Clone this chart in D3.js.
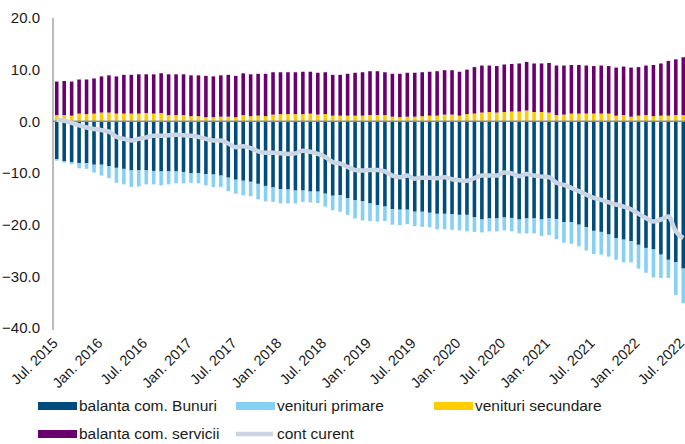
<!DOCTYPE html>
<html>
<meta charset="utf-8">
<script src="https://d3js.org/d3.v7.min.js"></script>
<style>
  body { margin: 0; background: #fff; }
  text { font-family: "Liberation Sans", Arial, sans-serif; fill: #1a1a1a; }
</style>
<body>
<div id="my_dataviz"></div>
<script>
    // monthly data, Jul. 2015 - Jul. 2022 (mld. euro)
    const bunuri = [-7.3,-7.7,-7.9,-8.1,-8.1,-8.4,-8.4,-8.7,-9.0,-9.2,
      -9.5,-9.5,-9.5,-9.6,-9.7,-9.7,-9.7,-9.8,-10.0,-10.0,
      -10.2,-10.3,-10.5,-10.9,-11.3,-11.5,-11.7,-12.1,-12.5,-12.8,
      -13.1,-13.2,-13.4,-13.4,-13.6,-13.6,-14.0,-14.4,-14.3,-14.9,
      -15.3,-15.5,-15.9,-16.2,-16.5,-17.0,-17.1,-17.1,-17.5,-17.5,
      -17.7,-17.9,-17.9,-18.0,-18.1,-18.1,-18.6,-19.0,-18.8,-18.8,
      -18.6,-18.7,-19.0,-18.8,-18.8,-19.0,-18.8,-18.9,-19.5,-19.5,
      -20.0,-20.5,-21.2,-21.4,-21.9,-22.6,-22.9,-23.2,-23.9,-24.5,
      -24.8,-25.8,-26.8,-27.3,-28.5];
    const primare = [-0.3,-0.3,-0.4,-1.0,-1.1,-1.5,-2.1,-2.3,-2.9,-3.0,
      -3.2,-3.1,-2.7,-2.6,-2.7,-2.5,-2.3,-2.2,-1.9,-2.0,
      -2.2,-2.4,-2.2,-2.6,-2.7,-2.8,-2.8,-3.0,-3.0,-2.8,
      -2.8,-2.7,-2.5,-2.2,-2.1,-2.2,-2.5,-2.8,-3.2,-3.2,
      -3.5,-3.7,-3.4,-3.2,-2.8,-3.0,-3.0,-2.8,-2.8,-2.9,
      -2.8,-3.0,-3.0,-3.0,-3.0,-3.2,-2.8,-2.5,-2.5,-2.5,
      -2.5,-2.6,-2.7,-2.9,-2.9,-3.2,-3.2,-3.9,-4.0,-4.2,
      -4.2,-4.5,-4.5,-4.4,-4.3,-4.2,-4.4,-4.1,-4.6,-4.8,
      -5.4,-4.5,-3.5,-6.3,-6.7];
    const secundare = [1.2,1.2,1.1,1.5,1.4,1.5,1.7,1.7,1.5,1.5,
      1.5,1.5,1.6,1.5,1.6,1.2,1.2,1.2,1.0,1.0,
      0.8,0.8,0.9,0.9,0.8,1.2,1.0,1.1,1.0,1.3,
      1.4,1.4,1.4,1.4,1.5,1.3,1.4,1.1,1.1,1.1,
      1.1,1.1,1.2,1.2,1.2,0.9,0.8,0.9,0.9,1.0,
      1.1,1.1,1.3,1.3,1.1,1.4,1.5,1.7,1.8,1.7,
      1.8,1.9,1.9,2.1,1.8,1.8,1.7,1.2,1.3,1.5,
      1.5,1.5,1.5,1.5,1.5,1.1,1.2,0.9,1.1,1.2,
      1.0,1.1,1.1,1.2,1.2];
    const servicii = [6.5,6.6,6.6,6.6,6.7,6.8,7.0,7.2,7.2,7.5,
      7.5,7.6,7.5,7.6,7.7,7.9,7.9,7.9,7.9,7.9,
      8.0,7.9,8.0,8.1,8.0,8.1,8.1,8.1,8.2,8.2,
      8.1,8.1,8.1,8.2,8.1,8.1,8.1,7.9,7.9,8.1,
      8.3,8.4,8.5,8.5,8.3,8.3,8.4,8.5,8.5,8.5,
      8.5,8.6,8.6,8.6,8.5,8.6,9.0,9.1,9.0,9.0,
      9.2,9.2,9.3,9.4,9.4,9.4,9.6,9.6,9.5,9.4,
      9.4,9.3,9.2,9.3,9.2,9.3,9.4,9.5,9.4,9.6,
      9.9,10.1,10.6,10.8,11.2];
    const contCurent = [0.3,0.1,-0.3,-0.8,-1.2,-1.5,-1.7,-2.0,-3.0,-3.4,
      -3.7,-3.4,-3.1,-2.8,-2.8,-2.7,-2.6,-2.7,-2.8,-3.0,
      -3.4,-3.7,-3.7,-4.3,-5.0,-4.8,-5.2,-5.8,-6.1,-6.1,
      -6.2,-6.3,-6.2,-5.7,-5.9,-6.3,-6.9,-7.9,-8.2,-8.8,
      -9.4,-9.5,-9.4,-9.4,-9.7,-10.5,-10.8,-10.5,-11.1,-10.9,
      -10.9,-11.0,-10.8,-11.2,-11.4,-11.5,-11.0,-10.5,-10.5,-10.5,
      -9.9,-10.1,-10.6,-10.2,-10.5,-10.7,-10.8,-11.9,-12.3,-12.9,
      -13.5,-14.2,-14.8,-15.2,-15.7,-16.1,-16.5,-17.0,-17.9,-18.7,
      -19.4,-19.0,-18.4,-21.3,-22.6];
    const tickLabels = ["Jul. 2015","Jan. 2016","Jul. 2016","Jan. 2017","Jul. 2017",
      "Jan. 2018","Jul. 2018","Jan. 2019","Jul. 2019","Jan. 2020","Jul. 2020",
      "Jan. 2021","Jul. 2021","Jan. 2022","Jul. 2022"];
    const yTicks = [20, 10, 0, -10, -20, -30, -40];

    const keys = ["bunuri", "primare", "secundare", "servicii"];
    const colors = {bunuri: "#004c7c", primare: "#86d0f4", secundare: "#ffcc00", servicii: "#6a006e"};

    const width = 685, height = 444;
    const svg = d3.select("#my_dataviz")
      .append("svg")
      .attr("width", width)
      .attr("height", height);

    // month index for each bar
    const data = bunuri.map(function(d, i) {
      return {i: i, bunuri: d, primare: primare[i], secundare: secundare[i],
              servicii: servicii[i], cont: contCurent[i]};
    });

    const x = d3.scaleBand()
      .domain(data.map(d => d.i))
      .range([53, 687])
      .paddingInner(0.52)
      .paddingOuter(0.26);

    const y = d3.scaleLinear()
      .domain([-40, 20])
      .range([328, 18]);

    // title (mostly cut off at the top of the picture)
    svg.append("text")
      .attr("x", 426)
      .attr("y", -6)
      .attr("text-anchor", "end")
      .style("font-size", "22px")
      .style("font-weight", "bold")
      .text("(mld. euro, anual)");

    // y axis labels
    svg.selectAll(".ylab")
      .data(yTicks)
      .enter()
      .append("text")
      .attr("class", "ylab")
      .attr("x", 40)
      .attr("y", d => y(d))
      .attr("dy", "0.35em")
      .attr("text-anchor", "end")
      .style("font-size", "15px")
      .text(d => d3.format(".1f")(d));

    // stacked bars
    const series = d3.stack()
      .keys(keys)
      .offset(d3.stackOffsetDiverging)(data);

    svg.append("g")
      .selectAll("g")
      .data(series)
      .enter()
      .append("g")
      .attr("fill", d => colors[d.key])
      .selectAll("rect")
      .data(d => d)
      .enter()
      .append("rect")
      .attr("x", d => x(d.data.i))
      .attr("width", x.bandwidth())
      .attr("y", d => y(Math.max(d[0], d[1])))
      .attr("height", d => Math.abs(y(d[0]) - y(d[1])));

    // axis lines
    svg.append("line")
      .attr("x1", 53).attr("x2", 53)
      .attr("y1", y(20)).attr("y2", y(-40) + 2)
      .attr("stroke", "#a6a6a6")
      .attr("stroke-width", 1.5);
    svg.append("line")
      .attr("x1", 53).attr("x2", 685)
      .attr("y1", y(0)).attr("y2", y(0))
      .attr("stroke", "#8c8c8c")
      .attr("stroke-width", 1.5);

    // current account line
    const line = d3.line()
      .x(d => x(d.i) + x.bandwidth() / 2)
      .y(d => y(d.cont))
      .curve(d3.curveMonotoneX);
    svg.append("path")
      .datum(data)
      .attr("fill", "none")
      .attr("stroke", "#cbd6e4")
      .attr("stroke-width", 4.5)
      .attr("d", line);

    // x labels every 6 months
    svg.selectAll(".xlab")
      .data(tickLabels)
      .enter()
      .append("text")
      .attr("class", "xlab")
      .attr("text-anchor", "end")
      .attr("transform", (d, k) => "translate(" + (x(k * 6) + x.bandwidth() / 2 + 2) + ",344) rotate(-45)")
      .style("font-size", "14.5px")
      .text(d => d);

    // legend
    const legend = [
      {name: "balanta com. Bunuri", key: "bunuri", lx: 38, ly: 406},
      {name: "venituri primare", key: "primare", lx: 236, ly: 406},
      {name: "venituri secundare", key: "secundare", lx: 434, ly: 406},
      {name: "balanta com. servicii", key: "servicii", lx: 38, ly: 434},
      {name: "cont curent", key: "cont", lx: 236, ly: 434}
    ];
    const lg = svg.selectAll(".leg")
      .data(legend)
      .enter()
      .append("g")
      .attr("class", "leg")
      .attr("transform", d => "translate(" + d.lx + "," + d.ly + ")");
    lg.filter(d => d.key !== "cont")
      .append("rect")
      .attr("x", 0).attr("y", -4)
      .attr("width", 39).attr("height", 8)
      .attr("fill", d => colors[d.key]);
    lg.filter(d => d.key === "cont")
      .append("line")
      .attr("x1", 0).attr("x2", 37)
      .attr("y1", 0).attr("y2", 0)
      .attr("stroke", "#cbd6e4")
      .attr("stroke-width", 4.5);
    lg.append("text")
      .attr("x", 41)
      .attr("dy", "0.35em")
      .style("font-size", "15.5px")
      .text(d => d.name);
</script>
</body>
</html>
